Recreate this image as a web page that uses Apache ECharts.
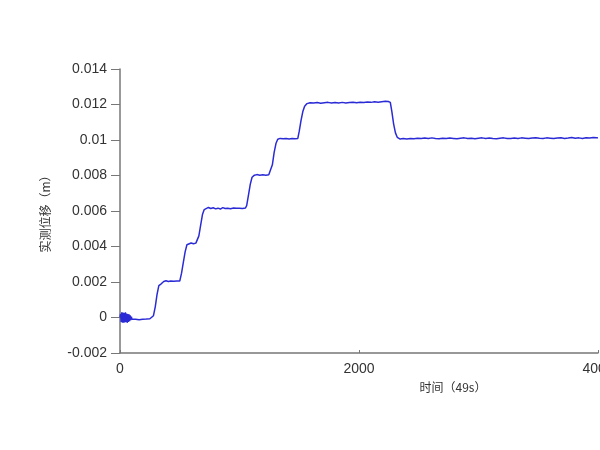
<!DOCTYPE html>
<html>
<head>
<meta charset="utf-8">
<script src="https://cdn.jsdelivr.net/npm/echarts@6/dist/echarts.min.js"></script>
<style>html,body{margin:0;padding:0;background:#fff;}#c{width:600px;height:450px;}</style>
</head>
<body>
<div id="c"></div>
<script>
var xName = '时间（49s）';
var yName = '实测位移（m）';
var xTicks = [0, 2000, 4000];
var yTicks = [-0.002, 0, 0.002, 0.004, 0.006, 0.008, 0.01, 0.012, 0.014];

var timeX = [0,5,10,15,20,25,30,35,40,45,50,55,60,65,70,75,80,85,90,95,100,110,
130,160,190,220,250,265,280,295,310,325,345,366,385,405,425,450,475,500,
515,530,545,560,575,595,615,635,648,
660,675,690,705,720,740,760,780,800,820,840,860,880,900,925,950,975,1000,1025,1050,
1060,1075,1090,1105,1125,1145,1170,1195,1220,1245,1260,
1275,1290,1305,1320,1340,1365,1390,1415,1440,1465,1488,
1500,1515,1530,1545,1565,1590,1620,1650,1680,1710,1740,1770,1800,1830,1860,1890,1920,1950,1980,2010,2040,2070,2100,2130,2160,2190,2220,2245,2262,
2275,2290,2305,2320,2345,2370,2400,2430,2460,2490,2520,2550,2580,2610,2640,2670,2700,2730,2760,2790,2820,2850,2880,2910,2940,2970,3000,3030,3060,3090,3120,3150,3180,3210,3240,3270,3300,3330,3360,3390,3420,3450,3480,3510,3540,3570,3600,3630,3660,3690,3720,3750,3780,3810,3840,3870,3900,3930,3960,3990,4000];

var dispY = [0,0.0002,-0.00025,0.0003,-0.0003,0.00028,-0.0003,0.00025,-0.00028,0.0003,-0.00025,0.00022,-0.0003,0.0002,-0.00025,0.00018,-0.0002,0.00012,-0.00015,0.00005,-0.0001,-0.00008,
-0.0001,-0.00012,-0.0001,-0.00009,-0.00007,-0.00004,0.0001,0.0006,0.0013,0.0018,0.0019,0.00203,0.00207,0.00203,0.00205,0.00204,0.00206,0.00205,
0.0025,0.0031,0.0037,0.0041,0.00418,0.0042,0.00416,0.00419,0.0042,
0.0046,0.0052,0.0058,0.00608,0.00616,0.0062,0.00614,0.00618,0.00612,0.00616,0.00611,0.00619,0.00614,0.00616,0.00613,0.00617,0.00615,0.00616,0.00614,0.00617,
0.0063,0.0069,0.0075,0.0079,0.00802,0.00805,0.00802,0.00804,0.00802,0.00804,0.00806,
0.0086,0.0093,0.0098,0.01004,0.01009,0.01007,0.01008,0.01006,0.01008,0.01007,0.01009,
0.0105,0.0111,0.0116,0.0119,0.01205,0.0121,0.01208,0.01211,0.01207,0.0121,0.01212,0.01208,0.01211,0.01209,0.01212,0.01209,0.01211,0.01213,0.0121,0.01213,0.01211,0.01214,0.01212,0.01215,0.01213,0.01216,0.01218,0.01217,0.01212,
0.0116,0.0109,0.0104,0.01015,0.01005,0.01008,0.01006,0.01009,0.01007,0.0101,0.01008,0.01011,0.01008,0.01012,0.01009,0.01007,0.0101,0.01008,0.01011,0.01009,0.01007,0.0101,0.01012,0.01008,0.0101,0.01007,0.0101,0.01012,0.01009,0.01011,0.01008,0.01007,0.0101,0.01012,0.01009,0.01008,0.01011,0.01009,0.01012,0.0101,0.01008,0.01011,0.01013,0.0101,0.01009,0.01012,0.0101,0.01008,0.01011,0.01013,0.01009,0.01011,0.01014,0.0101,0.01012,0.01009,0.01013,0.01011,0.01014,0.01012,0.01013];

var pts = timeX.map(function (x, i) { return [x, dispY[i]]; });

var chart = echarts.init(document.getElementById('c'), null, {renderer: 'canvas'});
chart.setOption({
  backgroundColor: '#ffffff',
  animation: false,
  grid: {left: 120, right: 2, top: 69, bottom: 97, containLabel: false, outerBoundsMode: 'none'},
  xAxis: {
    type: 'value',
    min: xTicks[0], max: xTicks[xTicks.length - 1], interval: 2000,
    name: xName, nameLocation: 'middle', nameGap: 28,
    nameTextStyle: {fontSize: 12, color: '#333', fontFamily: 'Noto Sans CJK SC', padding: [0, 0, 0, 188]},
    axisLine: {onZero: false, lineStyle: {color: '#777', width: 1.5}},
    axisTick: {inside: true, length: 3, lineStyle: {color: '#777'}},
    axisLabel: {fontSize: 14, color: '#333', margin: 9, fontFamily: 'Liberation Sans',
      hideOverlap: false, showMaxLabel: true,
      formatter: function (v) { return String(v); }},
    splitLine: {show: false}
  },
  yAxis: {
    type: 'value',
    min: yTicks[0], max: yTicks[yTicks.length - 1], interval: 0.002,
    name: yName, nameLocation: 'middle', nameGap: 69, nameRotate: 90,
    nameTextStyle: {fontSize: 12, color: '#333', fontFamily: 'Noto Sans CJK SC'},
    axisLine: {show: true, onZero: false, lineStyle: {color: '#777', width: 1.5}},
    axisTick: {show: true, length: 9, lineStyle: {color: '#777'}},
    axisLabel: {fontSize: 14, color: '#333', margin: 13, fontFamily: 'Liberation Sans',
      formatter: function (v) { return String(parseFloat(v.toFixed(4))); }},
    splitLine: {show: false}
  },
  series: [{
    type: 'line',
    data: pts,
    showSymbol: false,
    lineStyle: {color: '#2b2bd6', width: 1.5},
    itemStyle: {color: '#2b2bd6'}
  }]
});
</script>
</body>
</html>
